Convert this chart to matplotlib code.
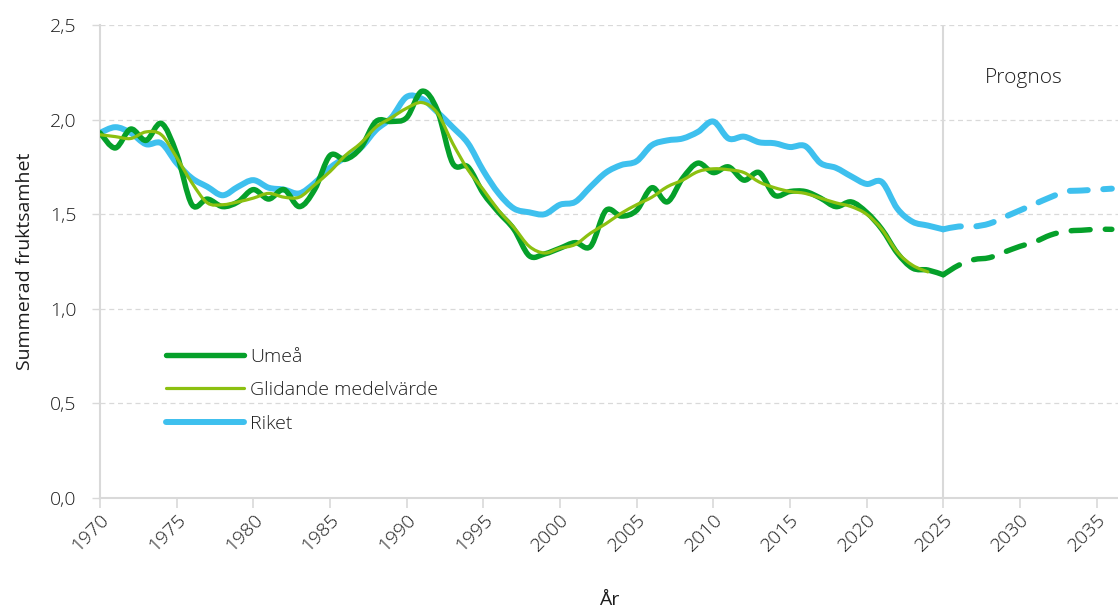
import numpy as np
import matplotlib.pyplot as plt
from matplotlib.path import Path
from matplotlib.patches import PathPatch
from matplotlib.lines import Line2D
from matplotlib.ticker import FuncFormatter

plt.rcParams['font.family'] = ['Open Sans', 'DejaVu Sans']
plt.rcParams['font.weight'] = 300

# data
years_hist = list(range(1970, 2026))
umea = [1.93, 1.85, 1.95, 1.89, 1.98, 1.82, 1.55, 1.58, 1.54, 1.565,
        1.63, 1.58, 1.63, 1.54, 1.63, 1.81, 1.79, 1.85, 1.99, 1.99,
        2.01, 2.15, 2.05, 1.77, 1.75, 1.61, 1.51, 1.42, 1.28, 1.29,
        1.32, 1.35, 1.33, 1.52, 1.49, 1.52, 1.64, 1.565, 1.69, 1.77,
        1.72, 1.75, 1.68, 1.72, 1.60, 1.62, 1.62, 1.585, 1.54, 1.565,
        1.51, 1.42, 1.295, 1.215, 1.205, 1.18]
riket = [1.93, 1.96, 1.93, 1.87, 1.875, 1.77, 1.69, 1.645, 1.60, 1.645,
         1.68, 1.64, 1.63, 1.61, 1.665, 1.745, 1.80, 1.85, 1.945, 2.01,
         2.12, 2.11, 2.04, 1.96, 1.875, 1.73, 1.61, 1.53, 1.51, 1.50,
         1.55, 1.565, 1.645, 1.72, 1.76, 1.78, 1.865, 1.89, 1.90, 1.935,
         1.99, 1.90, 1.91, 1.88, 1.875, 1.855, 1.86, 1.77, 1.745, 1.70,
         1.66, 1.67, 1.53, 1.46, 1.44, 1.42]
years_glid = list(range(1970, 2025))
glidande = [1.92, 1.91, 1.90, 1.935, 1.92, 1.80, 1.665, 1.56, 1.55, 1.565,
            1.585, 1.61, 1.59, 1.59, 1.655, 1.725, 1.81, 1.875, 1.96, 2.01,
            2.06, 2.09, 2.035, 1.875, 1.735, 1.63, 1.52, 1.43, 1.33, 1.295,
            1.32, 1.34, 1.40, 1.45, 1.505, 1.55, 1.59, 1.645, 1.68, 1.725,
            1.74, 1.735, 1.72, 1.67, 1.64, 1.62, 1.61, 1.585, 1.56, 1.54,
            1.50, 1.42, 1.30, 1.23, 1.195]
years_prog = list(range(2025, 2037))
umea_prog = [1.18, 1.23, 1.26, 1.27, 1.30, 1.33, 1.355, 1.39, 1.41, 1.415, 1.42, 1.42]
riket_prog = [1.42, 1.435, 1.435, 1.45, 1.485, 1.52, 1.555, 1.59, 1.62, 1.625, 1.63, 1.635]
xticks = list(range(1970, 2036, 5))

c_umea = '#05a02a'
c_glid = '#8cc010'
c_riket = '#3ec0ee'
c_text = '#1e1e1e'


def smooth_path(x, y):
    # excel-style smoothed line: catmull-rom segments as cubic bezier
    p = np.column_stack([x, y]).astype(float)
    n = len(p)
    verts = [p[0]]
    codes = [Path.MOVETO]
    for i in range(n - 1):
        p0 = p[i - 1] if i > 0 else p[i]
        p3 = p[i + 2] if i + 2 < n else p[i + 1]
        c1 = p[i] + (p[i + 1] - p0) / 6
        c2 = p[i + 1] - (p3 - p[i]) / 6
        verts += [c1, c2, p[i + 1]]
        codes += [Path.CURVE4] * 3
    return Path(verts, codes)


fig = plt.figure(figsize=(11.18, 6.07), dpi=100)
ax = fig.add_axes([100 / 1118, 1 - 498 / 607, 1018 / 1118, 473 / 607])

ax.add_patch(PathPatch(smooth_path(years_hist, riket), fill=False, color=c_riket,
                       lw=4.3, capstyle='round', joinstyle='round', zorder=3))
ax.add_patch(PathPatch(smooth_path(years_hist, umea), fill=False, color=c_umea,
                       lw=3.9, capstyle='round', joinstyle='round', zorder=4))
ax.add_patch(PathPatch(smooth_path(years_glid, glidande), fill=False, color=c_glid,
                       lw=2.3, capstyle='round', joinstyle='round', zorder=5))
ax.add_patch(PathPatch(smooth_path(years_prog, riket_prog), fill=False, color=c_riket,
                       lw=4.3, capstyle='round', linestyle=(0, (3, 2.6)), zorder=3))
ax.add_patch(PathPatch(smooth_path(years_prog, umea_prog), fill=False, color=c_umea,
                       lw=3.9, capstyle='round', linestyle=(0, (3.5, 2.8)), zorder=4))

ax.axvline(2025, color='#d9d9d9', lw=1.5, zorder=1)
ax.text(2027.7, 2.22, 'Prognos', fontsize=15, color=c_text, va='center')

ax.set_xlim(1970, 2036.4)
ax.set_ylim(0, 2.5)
ax.set_xticks(xticks)
ax.set_yticks([0, 0.5, 1.0, 1.5, 2.0, 2.5])
ax.yaxis.set_major_formatter(FuncFormatter(lambda v, p: f'{v:.1f}'.replace('.', ',')))
ax.grid(axis='y', color='#d9d9d9', linestyle=(0, (4, 3)), lw=0.9)
ax.set_axisbelow(True)
for s in ['top', 'right']:
    ax.spines[s].set_visible(False)
for s in ['left', 'bottom']:
    ax.spines[s].set_color('#d9d9d9')
    ax.spines[s].set_linewidth(1.5)
ax.tick_params(axis='x', length=7, color='#d9d9d9', width=1.2, labelsize=14,
               labelcolor=c_text, rotation=45, pad=2)
ax.tick_params(axis='y', length=6, color='#d9d9d9', width=1, labelsize=14,
               labelcolor=c_text, pad=11)
for lab in ax.get_xticklabels():
    lab.set_ha('right')
    lab.set_rotation_mode('anchor')

ax.set_xlabel('År', fontsize=14, color=c_text, labelpad=26)
ax.set_ylabel('Summerad fruktsamhet', fontsize=14, color=c_text, labelpad=11)

handles = [Line2D([], [], color=c_umea, lw=3.9, solid_capstyle='round'),
           Line2D([], [], color=c_glid, lw=2.3, solid_capstyle='round'),
           Line2D([], [], color=c_riket, lw=4.3, solid_capstyle='round')]
ax.legend(handles, ['Umeå', 'Glidande medelvärde', 'Riket'], frameon=False,
          fontsize=14, loc='upper left', bbox_to_anchor=(0.048, 0.355),
          handlelength=4.0, handletextpad=0.3, labelspacing=0.8,
          labelcolor=c_text)

fig.savefig('out.png', dpi=100)
